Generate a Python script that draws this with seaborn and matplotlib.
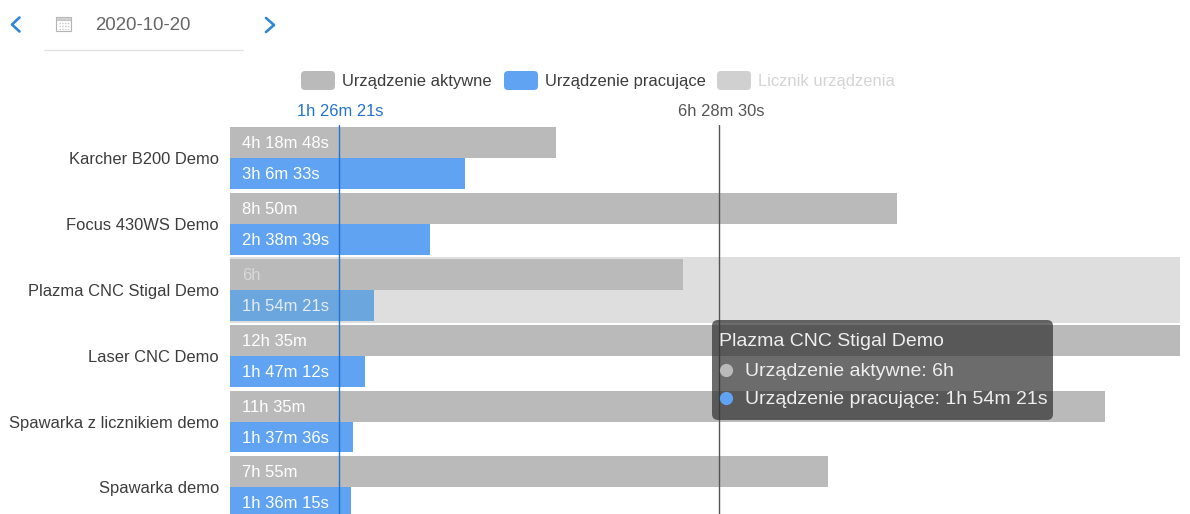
import re
import pandas as pd
import matplotlib.pyplot as plt
import seaborn as sns
from matplotlib.patches import FancyBboxPatch, Rectangle

devices = ['Karcher B200 Demo', 'Focus 430WS Demo', 'Plazma CNC Stigal Demo',
           'Laser CNC Demo', 'Spawarka z licznikiem demo', 'Spawarka demo']
active = ['4h 18m 48s', '8h 50m', '6h', '12h 35m', '11h 35m', '7h 55m']
working = ['3h 6m 33s', '2h 38m 39s', '1h 54m 21s', '1h 47m 12s', '1h 37m 36s', '1h 36m 15s']
series = ['Urządzenie aktywne', 'Urządzenie pracujące', 'Licznik urządzenia']
colors = ['#bababa', '#5fa3f2', '#d0d0d0']
avg_labels = ['1h 26m 21s', '6h 28m 30s']
avg_colors = ['#2473d0', '#555555']
hovered = 'Plazma CNC Stigal Demo'
date_label = '2020-10-20'


def to_hours(label):
    parts = re.findall(r'(\d+)([hms])', label)
    div = {'h': 1, 'm': 60, 's': 3600}
    return sum(int(n) / div[u] for n, u in parts)


sns.set_theme(style='white')
plt.rcParams['font.family'] = ['Liberation Sans', 'DejaVu Sans']

df = pd.DataFrame({'device': devices * 2,
                   'series': [series[0]] * 6 + [series[1]] * 6,
                   'hours': [to_hours(v) for v in active + working]})

fig = plt.figure(figsize=(11.9, 5.14), dpi=100)
ax = fig.add_axes([230 / 1190, 0, 950 / 1190, 389 / 514])

sns.barplot(data=df, y='device', x='hours', hue='series', order=devices,
            hue_order=series[:2], palette=colors[:2], width=0.94, gap=0,
            orient='h', legend=False, saturation=1, linewidth=0, ax=ax)
ax.set_xlim(0, to_hours(active[3]))
ax.set_ylim(5.405, -0.505)
ax.set_xlabel('')
ax.set_ylabel('')
ax.set_xticks([])
ax.tick_params(axis='y', length=0, pad=8, labelsize=11.9, labelcolor='#3c3c3c')
sns.despine(ax=ax, left=True, bottom=True)

# hover band behind the hovered row
row = devices.index(hovered)
ax.axhspan(row - 0.5, row + 0.5, color='#dedede', zorder=0, lw=0)

# value labels inside the bars
for cont, labels in zip(ax.containers, [active, working]):
    for bar, lab, dev in zip(cont, labels, devices):
        is_hover = dev == hovered
        if is_hover and cont is ax.containers[1]:
            bar.set_facecolor('#6ba6df')
        txt = '#ffffff'
        if is_hover:
            txt = '#d8d8d8' if cont is ax.containers[0] else '#e4ecf5'
        ax.annotate(lab, xy=(0, bar.get_y() + bar.get_height() / 2), xytext=(8.6, -0.8),
                    textcoords='offset points', ha='left', va='center',
                    color=txt, fontsize=12, zorder=5)

# average lines
for lab, c in zip(avg_labels, avg_colors):
    ax.axvline(to_hours(lab), color=c, lw=1, zorder=4)

# overlay in pixel coordinates for the page furniture
ov = fig.add_axes([0, 0, 1, 1], zorder=10)
ov.set_xlim(0, 1190)
ov.set_ylim(514, 0)
ov.axis('off')
ov.patch.set_alpha(0)

x_scale = 950 / to_hours(active[3])
for lab, c in zip(avg_labels, avg_colors):
    ov.text(230 + to_hours(lab) * x_scale + 2, 111.5, lab, color=c, fontsize=11.9, ha='center', va='center')

# legend
leg_x = [301, 504, 717]
leg_text = ['#3c3c3c', '#3c3c3c', '#d4d4d4']
for x, name, c, tc in zip(leg_x, series, colors, leg_text):
    ov.add_patch(FancyBboxPatch((x, 71), 34, 19, boxstyle='round,pad=0,rounding_size=4',
                                fc=c, ec='none'))
    ov.text(x + 41, 81.5, name, color=tc, fontsize=11.9, va='center', ha='left')

# date picker
ov.plot([19.5, 12, 19.5], [17.5, 24.5, 31.5], color='#2f86d6', lw=1.9)
ov.plot([266, 274, 266], [18, 25, 32], color='#2f86d6', lw=1.9)
ov.text(95, 25, date_label, color='#666666', fontsize=13.4, va='center', ha='left')
ov.plot([44, 243], [49.5, 49.5], color='#e2e2e2', lw=1)
ov.add_patch(Rectangle((56, 17), 15, 14, fc='white', ec='#b4b4b4', lw=0.8))
ov.add_patch(Rectangle((56, 17), 15, 3, fc='#d0d0d0', ec='#b4b4b4', lw=0.5))
for gy in [23, 26, 29]:
    ov.plot([58.5, 68.5], [gy, gy], color='#c8c8c8', lw=1, ls=(0, (1, 1)))

# tooltip
ov.add_patch(FancyBboxPatch((712, 320), 341, 100, boxstyle='round,pad=0,rounding_size=6',
                            fc='#303030', ec='none', alpha=0.71))
ov.text(719, 342, hovered, color='#eeeeee', fontsize=14, va='center', ha='left')
tip_y = [370, 398]
tip_vals = [active[row], working[row]]
for y, name, val, c in zip(tip_y, series, tip_vals, colors):
    ov.plot([726], [y], 'o', ms=9.5, color=c, mec='none')
    ov.text(745, y + 1.5, f'{name}: {val}', color='#eeeeee', fontsize=14, va='center', ha='left')

fig.savefig('out.png', dpi=100)
